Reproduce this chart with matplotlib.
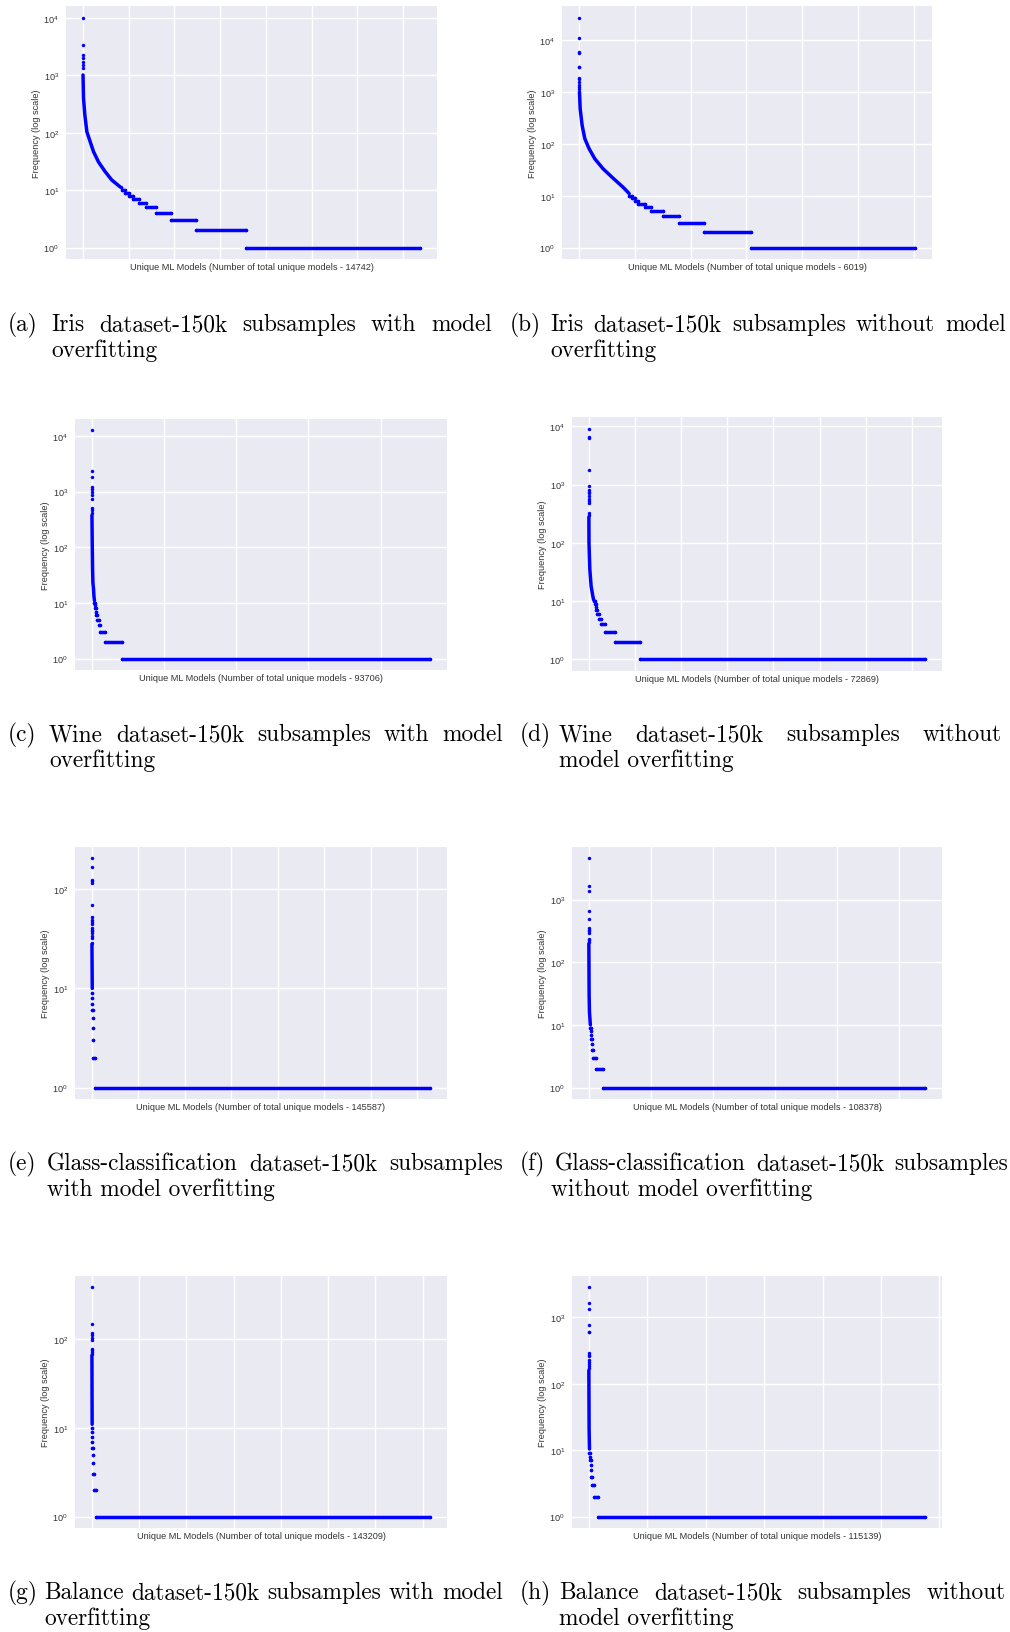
import matplotlib.pyplot as plt
import numpy as np

W, H = 1010, 1633

# total unique models per run (a..h)
n_models = [14742, 6019, 93706, 72869, 145587, 108378, 143209, 115139]

# (a) iris, with overfitting
top_a = [10250, 3400, 2280, 2050, 1700, 1530, 1330]
curve_rank_a = [7, 29, 87, 175, 320, 465, 684, 975, 1265, 1630, 1700]
curve_freq_a = [1020, 400, 204, 104, 70, 47, 31, 21, 15, 11.4, 11]
step_freq_a = [10, 9, 8, 7, 6, 5, 4, 3, 2, 1]
step_start_a = [1700, 1830, 2000, 2200, 2450, 2750, 3200, 3850, 4950, 7150]
step_end_a = [1830, 2000, 2200, 2450, 2750, 3200, 3850, 4950, 7150, 14741]

# (b) iris, without overfitting
top_b = [27300, 11200, 5930, 5700, 3090, 3000, 1900, 1740, 1560, 1390, 1250, 1120]
curve_rank_b = [12, 24, 59, 107, 184, 285, 434, 624, 790, 900]
curve_freq_b = [1000, 477, 228, 126, 80.5, 51.6, 33, 21.2, 14.6, 11]
step_freq_b = [10, 9, 8, 7, 6, 5, 4, 3, 2, 1]
step_start_b = [900, 960, 1000, 1058, 1176, 1295, 1503, 1788, 2234, 3078]
step_end_b = [960, 1000, 1058, 1176, 1295, 1503, 1788, 2234, 3078, 6018]

# (c) wine, with overfitting
top_c = [12600, 2350, 1810, 1230, 1100, 1000, 885, 728, 516, 470, 420]
curve_rank_c = [11, 92, 185, 277, 460, 554, 700]
curve_freq_c = [376, 121, 40, 23, 17.6, 13.4, 11]
step_freq_c = [10, 9, 8, 7, 6, 5, 4, 3, 2, 1]
step_start_c = [700, 850, 950, 1050, 1250, 1500, 1850, 2300, 3650, 8200]
step_end_c = [850, 950, 1050, 1250, 1500, 1850, 2300, 3650, 8200, 93705]

# (d) wine, without overfitting
top_d = [9120, 6460, 6300, 1790, 950, 800, 750, 702, 640, 575, 525, 484, 329, 296]
curve_rank_d = [14, 40, 220, 500, 870, 1050]
curve_freq_d = [277, 100, 35, 18, 12.2, 10.5]
step_freq_d = [10, 9, 8, 7, 6, 5, 4, 3, 2, 1]
step_start_d = [1050, 1250, 1450, 1600, 1800, 2150, 2650, 3600, 5600, 11100]
step_end_d = [1250, 1450, 1600, 1800, 2150, 2650, 3600, 5600, 11100, 72868]

# (e) glass, with overfitting
top_e = [205, 170, 125, 121, 116, 69, 52, 49, 47, 45, 41, 39, 38, 36, 34, 32, 29]
curve_rank_e = [17, 150]
curve_freq_e = [28, 10]
step_freq_e = [9, 8, 7, 6, 5, 4, 3, 2, 1]
step_start_e = [150, 180, 210, 250, 290, 340, 400, 600, 1450]
step_end_e = [180, 210, 250, 290, 340, 400, 600, 1450, 145586]

# (f) glass, without overfitting
top_f = [4540, 1640, 1360, 651, 497, 352, 331, 311, 293, 238, 225, 210]
curve_rank_f = [12, 100, 214, 500]
curve_freq_f = [198, 29.4, 16, 10]
step_freq_f = [9, 8, 7, 6, 5, 4, 3, 2, 1]
step_start_f = [500, 600, 700, 800, 900, 1100, 1500, 2300, 4600]
step_end_f = [600, 700, 800, 900, 1100, 1500, 2300, 4600, 108377]

# (g) balance, with overfitting
top_g = [385, 150, 118, 111, 104, 99, 78, 75, 72, 69]
curve_rank_g = [10, 100]
curve_freq_g = [66, 11]
step_freq_g = [10, 9, 8, 7, 6, 5, 4, 3, 2, 1]
step_start_g = [100, 130, 160, 200, 250, 300, 350, 450, 990, 1760]
step_end_g = [130, 160, 200, 250, 300, 350, 450, 990, 1760, 143208]

# (h) balance, without overfitting
top_h = [2830, 1643, 1350, 765, 607, 595, 292, 276, 260, 227, 214, 202, 186, 174]
curve_rank_h = [14, 100, 230]
curve_freq_h = [160, 21, 10.4]
step_freq_h = [9, 8, 7, 6, 5, 4, 3, 2, 1]
step_start_h = [230, 450, 570, 650, 730, 850, 1100, 1700, 3000]
step_end_h = [450, 570, 650, 730, 850, 1100, 1700, 3000, 115138]

panels = [
    (top_a, curve_rank_a, curve_freq_a, step_freq_a, step_start_a, step_end_a),
    (top_b, curve_rank_b, curve_freq_b, step_freq_b, step_start_b, step_end_b),
    (top_c, curve_rank_c, curve_freq_c, step_freq_c, step_start_c, step_end_c),
    (top_d, curve_rank_d, curve_freq_d, step_freq_d, step_start_d, step_end_d),
    (top_e, curve_rank_e, curve_freq_e, step_freq_e, step_start_e, step_end_e),
    (top_f, curve_rank_f, curve_freq_f, step_freq_f, step_start_f, step_end_f),
    (top_g, curve_rank_g, curve_freq_g, step_freq_g, step_start_g, step_end_g),
    (top_h, curve_rank_h, curve_freq_h, step_freq_h, step_start_h, step_end_h),
]

captions = [
    ("(a)", "Iris dataset-150k subsamples with model", "overfitting"),
    ("(b)", "Iris dataset-150k subsamples without model", "overfitting"),
    ("(c)", "Wine dataset-150k subsamples with model", "overfitting"),
    ("(d)", "Wine dataset-150k subsamples without", "model overfitting"),
    ("(e)", "Glass-classification dataset-150k subsamples", "with model overfitting"),
    ("(f)", "Glass-classification dataset-150k subsamples", "without model overfitting"),
    ("(g)", "Balance dataset-150k subsamples with model", "overfitting"),
    ("(h)", "Balance dataset-150k subsamples without", "model overfitting"),
]

# axes boxes in pixels: left, top, right, bottom
boxes = [
    (66, 7, 437, 260), (562, 7, 932, 260),
    (75, 420, 447, 671), (572, 418, 942, 672),
    (75, 848, 447, 1100), (572, 848, 942, 1100),
    (75, 1277, 447, 1529), (572, 1277, 942, 1529),
]

# caption placement: label x, text x0, x1 (justified line), line2 x, y1, y2
cap_pos = [
    (8, 51, 492, 51, 325, 351), (510, 550, 1006, 550, 325, 351),
    (8, 49, 503, 49, 735, 761), (520, 559, 1002, 559, 735, 761),
    (8, 47, 503, 47, 1164, 1190), (520, 555, 1008, 551, 1164, 1190),
    (8, 44, 503, 44, 1593, 1619), (520, 559, 1006, 559, 1593, 1619),
]

plt.rcParams['font.family'] = ['Liberation Sans', 'DejaVu Sans']
fig = plt.figure(figsize=(W / 100, H / 100), dpi=100)
fig.patch.set_facecolor('white')

lw = 2.5
lab_fs = 6.6
for i, (top, crank, cfreq, sfreq, sstart, send) in enumerate(panels):
    l, t, r, b = boxes[i]
    ax = fig.add_axes([l / W, 1 - b / H, (r - l) / W, (b - t) / H])
    ax.set_facecolor('#EAEAF2')
    for s in ax.spines.values():
        s.set_visible(False)
    ax.grid(True, color='white', lw=1.0)
    ax.set_axisbelow(True)

    ax.plot(np.arange(len(top)), top, 'o', color='blue', ms=lw, mec='none')
    ax.plot(crank, cfreq, '-', color='blue', lw=lw, solid_capstyle='round')
    ax.hlines(sfreq, sstart, send, color='blue', lw=lw, capstyle='round')
    # end dots so very short steps still show
    ax.plot(np.r_[sstart, send], np.r_[sfreq, sfreq], 'o', color='blue', ms=lw, mec='none')
    ax.set_yscale('log')
    ax.minorticks_off()

    ax.tick_params(axis='both', length=0, labelsize=lab_fs, labelcolor='#333333', pad=5)
    ax.tick_params(axis='x', labelbottom=False)
    ax.set_xlabel('Unique ML Models (Number of total unique models - %d)' % n_models[i],
                  fontsize=lab_fs, color='#333333', labelpad=2)
    ax.set_ylabel('Frequency (log scale)', fontsize=lab_fs, color='#333333', labelpad=2)

# captions in a LaTeX-like serif, first line justified
fs = 16.8
renderer = fig.canvas.get_renderer()
for (lab, line1, line2), (xl, x0, x1, x2, y1, y2) in zip(captions, cap_pos):
    fig.text(xl / W, 1 - y1 / H, lab, fontsize=fs, family='cmr10', va='center')
    words = line1.split()
    texts = [fig.text(0, 1 - y1 / H, w, fontsize=fs, family='cmr10', va='center')
             for w in words]
    widths = [tx.get_window_extent(renderer).width for tx in texts]
    gap = (x1 - x0 - sum(widths)) / (len(words) - 1)
    x = x0
    for tx, wd in zip(texts, widths):
        tx.set_x(x / W)
        x += wd + gap
    fig.text(x2 / W, 1 - y2 / H, line2, fontsize=fs, family='cmr10', va='center')

fig.savefig('out.png', dpi=100)
